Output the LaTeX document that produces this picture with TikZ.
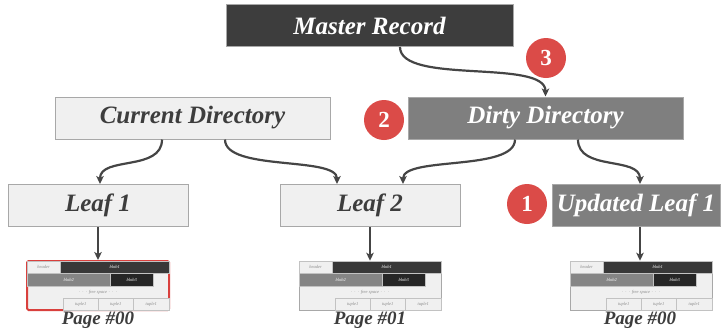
\documentclass[tikz,border=0pt]{standalone}
\usepackage{fontspec}
\setmainfont{Liberation Serif}
\usetikzlibrary{arrows.meta,calc}
\definecolor{boxlight}{HTML}{F0F0F0}
\definecolor{boxborder}{HTML}{A8A8A8}
\definecolor{boxdark}{HTML}{3D3D3D}
\definecolor{boxmid}{HTML}{7F7F7F}
\definecolor{arrowc}{HTML}{454545}
\definecolor{badge}{HTML}{DB4B48}
\definecolor{pagered}{HTML}{D9403D}
\definecolor{celldark}{HTML}{383838}
\definecolor{cellblack}{HTML}{262626}
\definecolor{cellmid}{HTML}{858585}
\definecolor{celltext}{HTML}{8A8A8A}
\newcommand\drawpagebox[4]{%
  \node[pageouter,#4] (#1) at (#2+71,#3+24.5) {};
  \begin{scope}[shift={(#2,#3)}]
    \node[cell,fill=boxlight,text=celltext,minimum width=33,minimum height=12] (#1hd) at (0,0) {header};
    \node[cell,fill=celldark,text=white,minimum width=109,minimum height=12] (#1ba) at (33,0) {blob1};
    \node[cell,fill=cellmid,text=white,minimum width=83,minimum height=13] (#1bb) at (0,12) {blob2};
    \node[cell,fill=cellblack,text=white,minimum width=43,minimum height=13] (#1bc) at (83,12) {blob3};
    \node[tinytext,text=celltext] (#1fs) at (71,31) {$\cdots$ free space $\cdots$};
    \node[cell,fill=boxlight,text=celltext,minimum width=35,minimum height=12] (#1ta) at (36,37) {tuple1};
    \node[cell,fill=boxlight,text=celltext,minimum width=35,minimum height=12] (#1tb) at (71,37) {tuple1};
    \node[cell,fill=boxlight,text=celltext,minimum width=36,minimum height=12] (#1tc) at (106,37) {tuple1};
  \end{scope}
}
\begin{document}
\begin{tikzpicture}[x=1pt,y=-1pt,
  bigbox/.style={draw=boxborder,line width=1pt,minimum height=42,inner sep=0pt,
    font=\fontsize{25}{28}\selectfont\bfseries\itshape},
  lightbox/.style={bigbox,fill=boxlight,text=boxdark},
  midbox/.style={bigbox,fill=boxmid,text=white},
  darkbox/.style={bigbox,fill=boxdark,text=white},
  badgec/.style={circle,fill=badge,text=white,minimum size=40,inner sep=0pt,
    font=\fontsize{23}{26}\selectfont\bfseries},
  conn/.style={draw=arrowc,line width=2.2pt,-{Stealth[length=8pt,width=7.5pt,inset=2pt]}},
  pageouter/.style={draw=boxborder,fill=boxlight,line width=0.5pt,minimum width=142,minimum height=49,inner sep=0pt},
  redpage/.style={draw=pagered,line width=2pt,rounded corners=1.5pt},
  plainpage/.style={},
  cell/.style={draw=boxborder!70,line width=0.3pt,anchor=north west,inner sep=0pt,
    font=\fontsize{4.5}{5}\selectfont\itshape},
  tinytext/.style={inner sep=0pt,font=\fontsize{4.5}{5}\selectfont\itshape},
  pagelabel/.style={inner sep=0pt,text=boxdark,font=\fontsize{19}{21}\selectfont\bfseries\itshape}
]
\useasboundingbox (0,0) rectangle (728,330);

\node[darkbox,minimum width=287] (master) at (369.5,25.5) {Master Record};
\node[lightbox,minimum width=275] (cur) at (192.5,118) {Current Directory};
\node[midbox,minimum width=275] (dirty) at (545.5,118) {Dirty Directory};
\node[lightbox,minimum width=180] (leafa) at (98,205.5) {Leaf 1};
\node[lightbox,minimum width=180] (leafb) at (370,205.5) {Leaf 2};
\node[midbox,minimum width=168] (leafu) at (636,205.5) {Updated Leaf 1};

\node[badgec] (bthree) at (546,58) {3};
\node[badgec] (btwo) at (384,120) {2};
\node[badgec] (bone) at (527,204) {1};

\drawpagebox{pga}{27}{261}{redpage}
\drawpagebox{pgb}{299}{261}{plainpage}
\drawpagebox{pgc}{570}{261}{plainpage}

\node[pagelabel] (lba) at (98,320) {Page \#00};
\node[pagelabel] (lbb) at (370,320) {Page \#01};
\node[pagelabel] (lbc) at (640,320) {Page \#00};

\draw[conn] ([xshift=30.5pt]master.south) .. controls +(0,38) and +(0,-38) .. (dirty.north);
\draw[conn] ([xshift=-30.5pt]cur.south) .. controls +(0,32) and +(0,-28) .. ([xshift=2pt]leafa.north);
\draw[conn] ([xshift=32.5pt]cur.south) .. controls +(0,32) and +(0,-28) .. ([xshift=-33pt]leafb.north);
\draw[conn] ([xshift=-30.5pt]dirty.south) .. controls +(0,32) and +(0,-28) .. ([xshift=33pt]leafb.north);
\draw[conn] ([xshift=32.5pt]dirty.south) .. controls +(0,32) and +(0,-28) .. ([xshift=4pt]leafu.north);

\draw[conn] (leafa.south) -- (leafa.south |- pga.north);
\draw[conn] (leafb.south) -- (leafb.south |- pgb.north);
\draw[conn] ([xshift=4pt]leafu.south) -- ([xshift=4pt]leafu.south |- pgc.north);
\end{tikzpicture}
\end{document}
